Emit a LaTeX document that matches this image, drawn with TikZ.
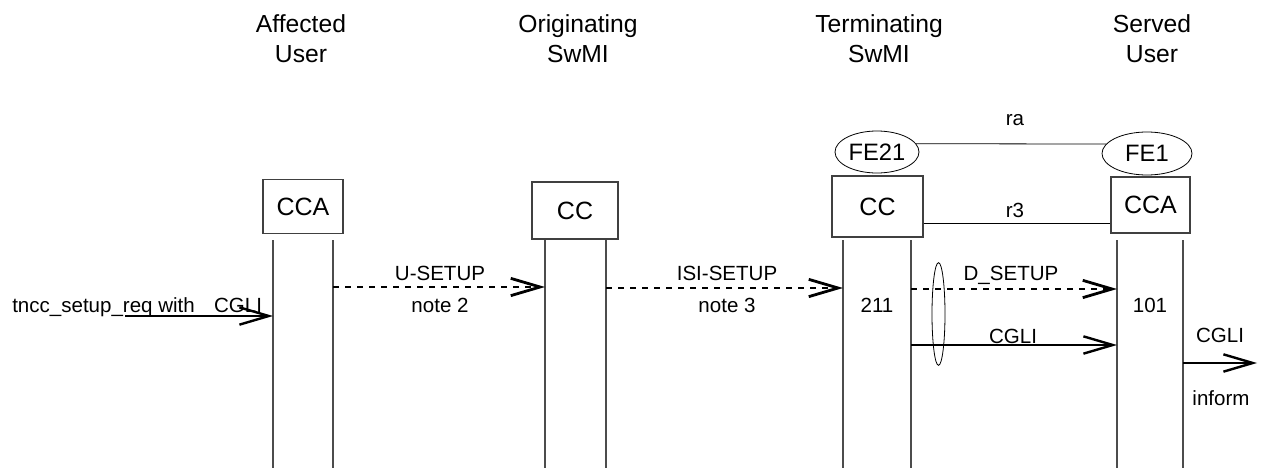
\documentclass[tikz,border=0pt]{standalone}
\usepackage{fontspec}
\setmainfont{Liberation Sans}
\usetikzlibrary{arrows.meta,shapes.geometric,calc}

\begin{document}
\begin{tikzpicture}[x=0.75pt,y=-0.75pt,
  >={Straight Barb[length=22pt,width=13pt]},
  head/.style={align=center,anchor=base,inner sep=0pt,font=\fontsize{18.5}{22.5}\selectfont},
  entity/.style={draw=black!75,line width=0.8pt,inner sep=0pt,font=\fontsize{18.75}{22}\selectfont},
  fe/.style={ellipse,draw,line width=0.6pt,inner sep=0pt,font=\fontsize{17.8}{20}\selectfont},
  life/.style={draw=black!70,line width=0.8pt},
  sig/.style={->,line width=1.8pt},
  dotsig/.style={sig,line width=2.1pt,dash pattern=on 4.5pt off 4.5pt},
  lbl/.style={anchor=base,inner sep=0pt,font=\fontsize{15.4}{18}\selectfont}]
\useasboundingbox (0,0) rectangle (1265,471);

\node[head] (hau) at (301,62) {Affected\\User};
\node[head] (hos) at (578,62) {Originating\\SwMI};
\node[head] (hts) at (879,62) {Terminating\\SwMI};
\node[head] (hsu) at (1152,62) {Served\\User};

\node[entity,minimum width=60pt,minimum height=41pt] (cca1) at (303,206.5) {CCA};
\node[entity,minimum width=64.5pt,minimum height=42.75pt] (cc2) at (575,210.5) {CC};
\node[entity,minimum width=68.25pt,minimum height=45.75pt] (cc3) at (877.5,206.5) {CC};
\node[entity,minimum width=59.25pt,minimum height=42pt] (cca4) at (1150.5,205) {CCA};

\node[fe,minimum width=63pt,minimum height=31.5pt] (fe21) at (877,152) {FE21};
\node[fe,minimum width=67.5pt,minimum height=32.25pt] (fe1) at (1147,153.5) {FE1};
\draw[line width=0.6pt] (fe21.12) -- (fe1.167);
\node[lbl] (ra) at (1015,125) {ra};
\draw[line width=0.6pt] ([yshift=-12.4pt]cc3.east) -- ([yshift=-12.4pt]cc3.east -| cca4.west);
\node[lbl] (r3) at (1015,217) {r3};

\coordinate (au1) at (273,240); \coordinate (au2) at (333,240);
\coordinate (os1) at (545,240); \coordinate (os2) at (606,240);
\coordinate (ts1) at (843,240); \coordinate (ts2) at (911,240);
\coordinate (su1) at (1117,240); \coordinate (su2) at (1183,240);
\foreach \l in {au1,au2,os1,os2,ts1,ts2,su1,su2}
  \draw[life] (\l) -- (\l |- 0,468);

\coordinate (src) at (125,316);
\draw[sig] (src) -- (au1 |- src);
\node[lbl,anchor=base west] (req) at (12,312) {tncc\_setup\_req with};
\node[lbl] (cgli1) at (238,312) {CGLI};

\draw[dotsig] (au2 |- 0,287) -- (os1 |- 0,287);
\node[lbl] (usetup) at (440,280) {U-SETUP};
\node[lbl] (note2) at (440,312) {note 2};

\draw[dotsig] (os2 |- 0,288) -- (ts1 |- 0,288);
\node[lbl] (isisetup) at (727,280) {ISI-SETUP};
\node[lbl] (note3) at (727,312) {note 3};

\node[lbl] (s211) at (877,312) {211};

\draw[dotsig] (ts2 |- 0,289) -- (su1 |- 0,289);
\node[lbl] (dsetup) at (1011,280) {D\_SETUP};
\draw[sig] (ts2 |- 0,345) -- (su1 |- 0,345);
\node[lbl] (cgli2) at (1013,343) {CGLI};
\node[ellipse,draw,line width=0.6pt,inner sep=0pt,minimum width=9.75pt,minimum height=77pt] (grp) at (938.5,314) {};

\node[lbl] (s101) at (1150,312) {101};

\coordinate (env) at (1257,363);
\draw[sig] (su2 |- env) -- (env);
\node[lbl] (cgli3) at (1220,342) {CGLI};
\node[lbl] (inform) at (1221,405) {inform};
\end{tikzpicture}
\end{document}
